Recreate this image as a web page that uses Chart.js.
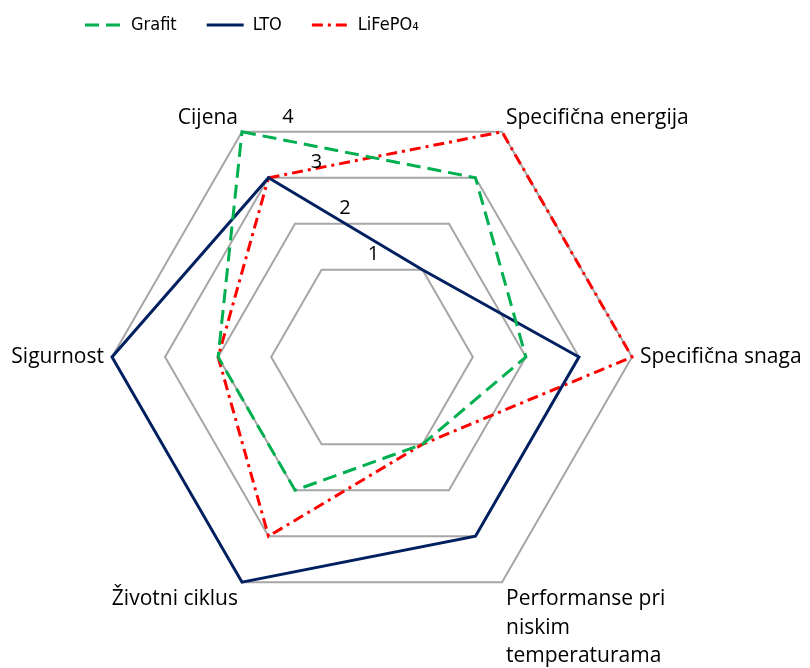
<!DOCTYPE html>
<html>
<head>
<meta charset="utf-8">
<script src="https://cdn.jsdelivr.net/npm/chart.js@4.4.1/dist/chart.umd.min.js"></script>
<style>
  html, body { margin: 0; padding: 0; background: #fff; }
</style>
</head>
<body>
<canvas id="radar" width="810" height="668"></canvas>
<script>
// podaci ocitani sa slike
const kategorije = [
  "Cijena",
  "Specifična energija",
  "Specifična snaga",
  ["Performanse pri", "niskim", "temperaturama"],
  "Životni ciklus",
  "Sigurnost"
];
const grafit = [4, 3, 2, 1, 2, 2];
const lto = [3, 1, 3, 3, 4, 4];
const lifepo4 = [3, 4, 4, 1, 3, 2];
const oznakeSkale = [1, 2, 3, 4];
const minSkale = -0.9;
const maxSkale = 4;

const fontLabela = "'Open Sans', 'Noto Sans', sans-serif";
const fontLegende = "'Liberation Sans Narrow', 'DejaVu Sans Condensed', sans-serif";

// oznake 1..4 uz prvu os, bez rotacije teksta
const oznakeOsi = {
  id: 'oznakeOsi',
  afterDatasetsDraw(chart) {
    const r = chart.scales.r;
    const c = chart.ctx;
    c.save();
    c.font = "20px " + fontLabela;
    c.fillStyle = '#000';
    c.textAlign = 'center';
    c.textBaseline = 'middle';
    oznakeSkale.forEach(v => {
      const p = r.getPointPositionForValue(0, v);
      c.fillText(String(v), p.x + 46 + (4 - v) * 2, p.y - 15);
    });
    c.restore();
  }
};

// nazivi kategorija oko vrhova sesterokuta
const naziviOsi = {
  id: 'naziviOsi',
  afterDraw(chart) {
    const r = chart.scales.r;
    const c = chart.ctx;
    const lh = 28.5;
    c.save();
    c.font = "21px " + fontLabela;
    c.fillStyle = '#000';
    c.textBaseline = 'middle';
    kategorije.forEach((naziv, i) => {
      const redovi = Array.isArray(naziv) ? naziv : [naziv];
      const p = r.getPointPosition(i, r.drawingArea + 8);
      let kut = Math.round(r.getIndexAngle(i) * 180 / Math.PI) % 360;
      if (kut < 0) kut += 360;
      c.textAlign = (kut === 0 || kut === 180) ? 'center' : (kut < 180 ? 'left' : 'right');
      let y0;
      if (kut === 90 || kut === 270) y0 = p.y - (redovi.length - 1) * lh / 2;
      else if (kut > 270 || kut < 90) y0 = p.y - 7 - (redovi.length - 1) * lh;
      else y0 = p.y + 10;
      redovi.forEach((t, k) => c.fillText(t, p.x, y0 + k * lh));
    });
    c.restore();
  }
};

// legenda lijevo gore, kao na originalu
const pomakLegende = {
  id: 'pomakLegende',
  afterLayout(chart) {
    const lg = chart.legend;
    const pad = lg.options.labels.padding;
    lg.left = 85 - pad;
    lg.right = lg.left + 700;
    lg.top = 24 - pad - 8;
    lg.bottom = lg.top + 2 * pad + 24;
    lg.width = lg.right - lg.left;
    lg.height = lg.bottom - lg.top;
  }
};

new Chart(document.getElementById('radar'), {
  type: 'radar',
  data: {
    labels: kategorije,
    datasets: [
      { label: 'Grafit', data: grafit, borderColor: '#00B050', borderDash: [14, 7], borderWidth: 3 },
      { label: 'LTO', data: lto, borderColor: '#002060', borderWidth: 3 },
      { label: 'LiFePO₄', data: lifepo4, borderColor: '#FF0000', borderDash: [11, 5, 3, 5], borderWidth: 3 }
    ]
  },
  options: {
    responsive: false,
    animation: false,
    layout: { padding: { top: 57, left: 112, right: 178, bottom: 51 } },
    elements: {
      line: { fill: false, tension: 0, borderJoinStyle: 'miter', backgroundColor: 'transparent' },
      point: { radius: 0, hoverRadius: 0 }
    },
    plugins: {
      tooltip: { enabled: false },
      legend: {
        position: 'top',
        align: 'start',
        maxHeight: 40,
        labels: {
          usePointStyle: true,
          pointStyle: 'line',
          pointStyleWidth: 37,
          padding: 30,
          color: '#000',
          font: { family: fontLegende, size: 18 },
          generateLabels: chart => chart.data.datasets.map((ds, i) => ({
            text: ds.label,
            datasetIndex: i,
            strokeStyle: ds.borderColor,
            fillStyle: ds.borderColor,
            fontColor: '#000',
            lineWidth: ds.borderWidth,
            lineDash: ds.borderDash || [],
            lineCap: 'butt',
            pointStyle: 'line',
            hidden: false
          }))
        }
      }
    },
    scales: {
      r: {
        min: minSkale,
        max: maxSkale,
        startAngle: -30,
        afterBuildTicks: s => { s.ticks = [minSkale, ...oznakeSkale].map(v => ({ value: v })); },
        ticks: { display: false },
        grid: { color: '#A6A6A6', lineWidth: 2 },
        angleLines: { display: false },
        pointLabels: { display: false }
      }
    }
  },
  plugins: [oznakeOsi, naziviOsi, pomakLegende]
});
</script>
</body>
</html>
